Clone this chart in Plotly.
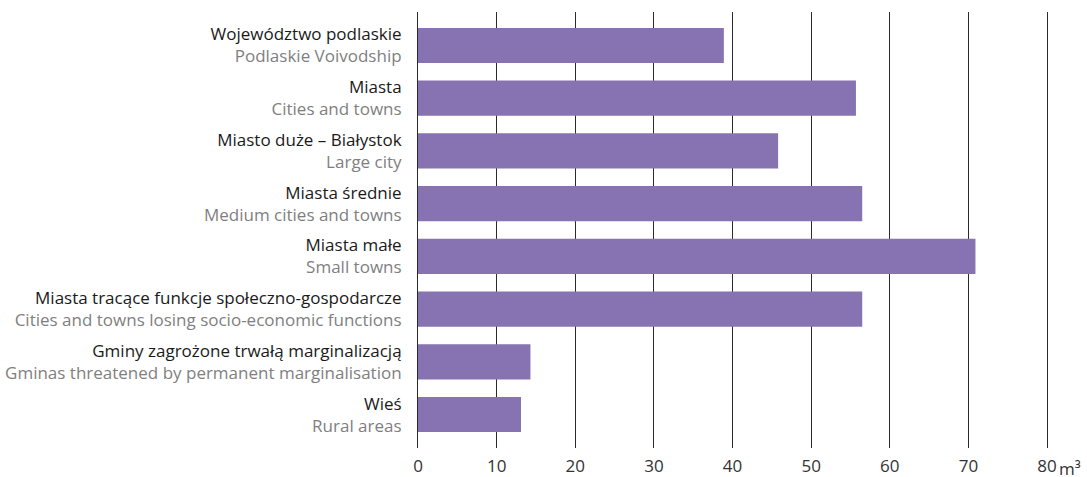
import plotly.graph_objects as go

categories_pl = [
    "Województwo podlaskie",
    "Miasta",
    "Miasto duże – Białystok",
    "Miasta średnie",
    "Miasta małe",
    "Miasta tracące funkcje społeczno-gospodarcze",
    "Gminy zagrożone trwałą marginalizacją",
    "Wieś",
]
categories_en = [
    "Podlaskie Voivodship",
    "Cities and towns",
    "Large city",
    "Medium cities and towns",
    "Small towns",
    "Cities and towns losing socio-economic functions",
    "Gminas threatened by permanent marginalisation",
    "Rural areas",
]
values = [38.9, 55.7, 45.8, 56.5, 70.9, 56.5, 14.3, 13.1]
x_tick_vals = [0, 10, 20, 30, 40, 50, 60, 70, 80]
x_tick_text = ["0", "10", "20", "30", "40", "50", "60", "70", "80"]
unit_label = "m³"

FONT = "Open Sans"
FS = 17
BAR_COLOR = "#8773b1"
GRID = "#2b2b2b"

ticktext = [
    f"<span style='color:#1a1a1a'>{pl}</span><br><span style='color:#7f7f7f'>{en}</span>"
    for pl, en in zip(categories_pl, categories_en)
]

fig = go.Figure(
    go.Bar(
        x=values,
        y=categories_pl,
        orientation="h",
        marker=dict(color=BAR_COLOR, line=dict(width=0)),
        hoverinfo="x+y",
    )
)

n = len(categories_pl)
pad = 0.633
fig.update_layout(
    width=1087,
    height=477,
    margin=dict(l=418, r=40, t=12, b=29, autoexpand=False),
    paper_bgcolor="white",
    plot_bgcolor="white",
    bargap=0.336,
    showlegend=False,
    font=dict(family=FONT, size=FS, color="#1a1a1a"),
    xaxis=dict(
        range=[0, 80],
        tickmode="array",
        tickvals=x_tick_vals,
        ticktext=x_tick_text,
        showgrid=True,
        gridcolor=GRID,
        gridwidth=1,
        zeroline=False,
        showline=False,
        ticks="outside",
        ticklen=3,
        tickcolor="rgba(0,0,0,0)",
        tickfont=dict(family=FONT, size=FS, color="#333333"),
        automargin=False,
        fixedrange=True,
    ),
    yaxis=dict(
        tickmode="array",
        tickvals=categories_pl,
        ticktext=ticktext,
        range=[n - 1 + pad, -pad],
        showgrid=False,
        zeroline=False,
        showline=True,
        mirror=True,
        linecolor=GRID,
        linewidth=1,
        ticks="outside",
        ticklen=12,
        tickcolor="rgba(0,0,0,0)",
        tickfont=dict(family=FONT, size=FS, color="#1a1a1a"),
        automargin=False,
        fixedrange=True,
    ),
    annotations=[
        dict(
            x=80,
            xref="x",
            y=0,
            yref="paper",
            yshift=-20,
            xshift=11,
            text=unit_label,
            showarrow=False,
            xanchor="left",
            yanchor="middle",
            borderpad=0,
            font=dict(family=FONT, size=FS, color="#333333"),
        )
    ],
)

fig.write_html(
    "out.html",
    config={"displayModeBar": False},
    post_script="document.body.style.margin='0px';document.body.style.overflow='hidden';",
)
